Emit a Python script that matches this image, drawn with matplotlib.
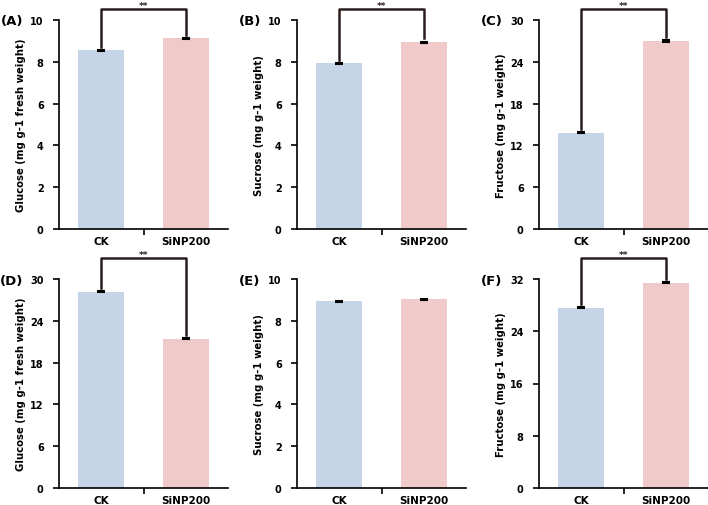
import matplotlib.pyplot as plt
import matplotlib.transforms as mtransforms

plt.rcParams['font.family'] = ['DejaVu Sans']
plt.rcParams['font.weight'] = 'bold'

groups = ['CK', 'SiNP200']
panel_labels = ['(A)', '(B)', '(C)', '(D)', '(E)', '(F)']
ylabels = ['Glucose (mg g-1 fresh weight)', 'Sucrose (mg g-1 weight)', 'Fructose (mg g-1 weight)',
           'Glucose (mg g-1 fresh weight)', 'Sucrose (mg g-1 weight)', 'Fructose (mg g-1 weight)']
values = [[8.55, 9.12], [7.93, 8.93], [13.8, 27.0],
          [28.2, 21.4], [8.93, 9.02], [27.6, 31.4]]
errors = [[0.03, 0.03], [0.03, 0.04], [0.08, 0.1],
          [0.1, 0.08], [0.04, 0.04], [0.08, 0.08]]
ymax = [10, 10, 30, 30, 10, 32]
ystep = [2, 2, 6, 6, 2, 8]
signif = [True, True, True, True, False, True]

colors = ['#c5d5e7', '#efcac9']
bracket_color = '#2b1d1d'

fig = plt.figure(figsize=(7.08, 5.06), dpi=100)
W, H = 708, 506
lefts = [59, 297, 539]
tops = [21, 280]
bracket_top = [1.055, 1.10]
aw, ah = 169, 209

for i in range(6):
    r, c = divmod(i, 3)
    ax = fig.add_axes([lefts[c] / W, (H - tops[r] - ah) / H, aw / W, ah / H])
    x = range(len(groups))
    ax.bar(x, values[i], width=0.55, color=colors, zorder=2)
    ax.errorbar(x, values[i], yerr=errors[i], fmt='none', ecolor='black',
                elinewidth=1, capsize=3, capthick=1.5, zorder=3)
    ax.set_xlim(-0.5, 1.5)
    ax.set_ylim(0, ymax[i])
    ax.set_yticks(range(0, ymax[i] + 1, ystep[i]))
    ax.set_xticks([0, 1])
    ax.set_xticklabels(groups, fontsize=7.5, fontweight='bold')
    ax.set_xticks([0.5], minor=True)
    ax.tick_params(axis='x', which='major', length=0, pad=5)
    ax.tick_params(axis='x', which='minor', length=4, width=1.2, direction='out')
    ax.tick_params(axis='y', length=4, width=1.2, direction='out', labelsize=7, pad=7)
    for lab in ax.get_yticklabels():
        lab.set_fontweight('bold')
    for s in ['top', 'right']:
        ax.spines[s].set_visible(False)
    for s in ['left', 'bottom']:
        ax.spines[s].set_linewidth(1.2)
    ax.set_ylabel(ylabels[i], fontsize=7.3, fontweight='bold', labelpad=3)
    ax.text(-0.28, 1.0 - 1.0 / ah, panel_labels[i], transform=ax.transAxes, fontsize=9.5,
            fontweight='bold', ha='center', va='center')

    if signif[i]:
        trans = mtransforms.blended_transform_factory(ax.transData, ax.transAxes)
        top = bracket_top[r]
        y0 = (values[i][0] + errors[i][0]) / ymax[i] + 0.015
        y1 = (values[i][1] + errors[i][1]) / ymax[i] + 0.015
        ax.plot([0, 0, 1, 1], [y0, top, top, y1], color=bracket_color, lw=1.8,
                transform=trans, clip_on=False, zorder=4)
        ax.text(0.5, top + 0.004, '**', transform=trans, ha='center', va='baseline',
                fontsize=6.5, fontweight='bold', color=bracket_color)

fig.savefig('out.png', dpi=100)
